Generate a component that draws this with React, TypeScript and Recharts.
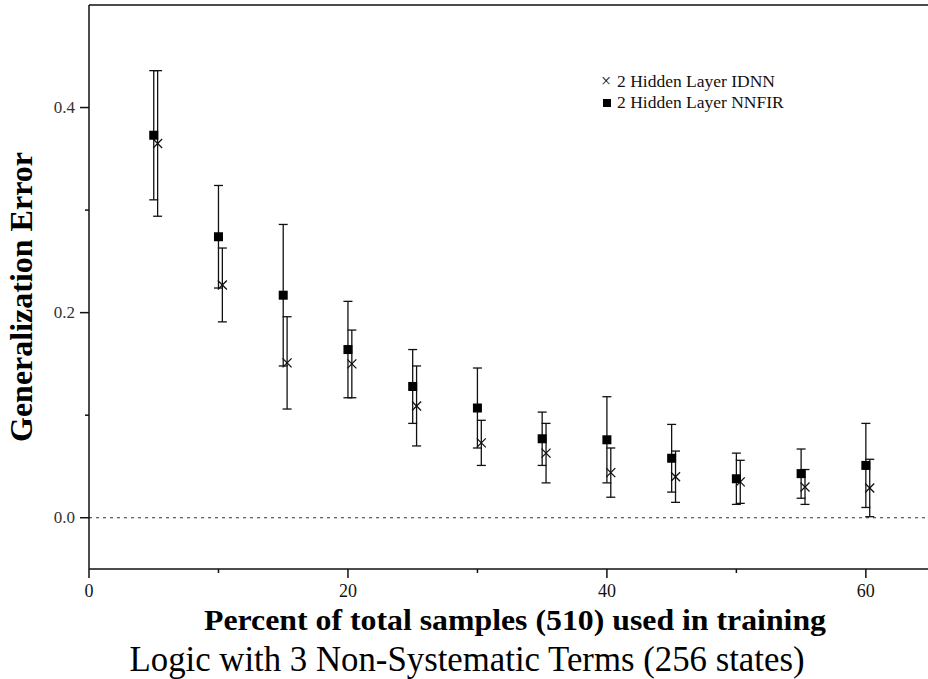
import React from 'react';
import {
  ScatterChart,
  Scatter,
  XAxis,
  YAxis,
  ErrorBar,
  ReferenceLine,
} from 'recharts';

// percent of samples used in training
const percents = [5, 10, 15, 20, 25, 30, 35, 40, 45, 50, 55, 60];
// IDNN points are drawn a little to the right of the NNFIR ones
const idnnOffset = 0.3;

const nnfirMean = [0.373, 0.274, 0.217, 0.164, 0.128, 0.107, 0.077, 0.076, 0.058, 0.038, 0.043, 0.051];
const nnfirErr = [0.063, 0.05, 0.069, 0.047, 0.036, 0.039, 0.026, 0.042, 0.033, 0.025, 0.024, 0.041];
const idnnMean = [0.365, 0.227, 0.151, 0.15, 0.109, 0.073, 0.063, 0.044, 0.04, 0.035, 0.03, 0.029];
const idnnErr = [0.071, 0.036, 0.045, 0.033, 0.039, 0.022, 0.029, 0.024, 0.025, 0.021, 0.017, 0.028];

const xTicks = [0, 10, 20, 30, 40, 50, 60];
const xLabeled = [0, 20, 40, 60];
const yTicks = [0, 0.1, 0.2, 0.3, 0.4];
const yLabeled = [0, 0.2, 0.4];

const FONT = '"Liberation Serif", "Times New Roman", serif';
const INK = '#111';
const serif = { fontFamily: FONT };

const nnfirData = percents.map((p, i) => ({ x: p, y: nnfirMean[i], err: nnfirErr[i] }));
const idnnData = percents.map((p, i) => ({ x: p + idnnOffset, y: idnnMean[i], err: idnnErr[i] }));

const SquareDot = (props: any) => {
  const { cx, cy } = props;
  if (cx == null || cy == null) return null;
  return <rect x={cx - 4.5} y={cy - 4.5} width={9} height={9} fill="#000" />;
};

const CrossDot = (props: any) => {
  const { cx, cy } = props;
  if (cx == null || cy == null) return null;
  const r = 4.5;
  return (
    <g stroke={INK} strokeWidth={1.3}>
      <line x1={cx - r} y1={cy - r} x2={cx + r} y2={cy + r} />
      <line x1={cx - r} y1={cy + r} x2={cx + r} y2={cy - r} />
    </g>
  );
};

const XTick = (props: any) => {
  const { x, y, payload } = props;
  const major = xLabeled.includes(payload.value);
  return (
    <g>
      <line x1={x} y1={y} x2={x} y2={y + (major ? 9 : 4)} stroke={INK} strokeWidth={1.5} />
      {major && (
        <text x={x} y={y + 28} textAnchor="middle" style={serif} fontSize={18} fill={INK}>
          {payload.value}
        </text>
      )}
    </g>
  );
};

const YTick = (props: any) => {
  const { x, y, payload } = props;
  const major = yLabeled.some((v) => Math.abs(v - payload.value) < 1e-9);
  return (
    <g>
      <line x1={x} y1={y} x2={x - (major ? 9 : 4)} y2={y} stroke={INK} strokeWidth={1.5} />
      {major && (
        <text x={x - 14} y={y + 5} textAnchor="end" style={serif} fontSize={17} fill="#333">
          {payload.value.toFixed(1)}
        </text>
      )}
    </g>
  );
};

export default function App() {
  return (
    <div style={{ position: 'absolute', left: 0, top: 0, width: 928, height: 679, background: '#fff' }}>
      <ScatterChart width={928} height={679} margin={{ top: 5, right: 0, left: 29, bottom: 80 }}>
        <XAxis
          type="number"
          dataKey="x"
          domain={[0, 64.8]}
          ticks={xTicks}
          tick={<XTick />}
          tickLine={false}
          tickSize={0}
          tickMargin={0}
          height={30}
          axisLine={{ stroke: INK, strokeWidth: 1.5 }}
          allowDataOverflow
        />
        <YAxis
          type="number"
          dataKey="y"
          domain={[-0.05, 0.5]}
          ticks={yTicks}
          tick={<YTick />}
          tickLine={false}
          tickSize={0}
          tickMargin={0}
          width={60}
          axisLine={{ stroke: INK, strokeWidth: 1.5 }}
          allowDataOverflow
        />
        <ReferenceLine y={0.5} stroke={INK} strokeWidth={1.5} />
        <ReferenceLine y={0} stroke="#333" strokeWidth={1.2} strokeDasharray="3 4" />
        <Scatter data={idnnData} shape={<CrossDot />} isAnimationActive={false}>
          <ErrorBar dataKey="err" direction="y" width={4.5} stroke={INK} strokeWidth={1.3} isAnimationActive={false} />
        </Scatter>
        <Scatter data={nnfirData} shape={<SquareDot />} isAnimationActive={false}>
          <ErrorBar dataKey="err" direction="y" width={4.5} stroke={INK} strokeWidth={1.3} isAnimationActive={false} />
        </Scatter>
      </ScatterChart>

      <svg
        width={928}
        height={679}
        style={{ position: 'absolute', left: 0, top: 0, pointerEvents: 'none' }}
      >
        {/* legend */}
        <text x={601} y={87} style={serif} fontSize={18} fill={INK}>×</text>
        <text x={617} y={87} style={serif} fontSize={17.5} fill={INK}>2 Hidden Layer IDNN</text>
        <rect x={603} y={99} width={8} height={8} fill="#000" />
        <text x={617} y={108} style={serif} fontSize={17.5} fill={INK}>2 Hidden Layer NNFIR</text>

        <text
          transform="translate(32, 297) rotate(-90)"
          textAnchor="middle"
          style={serif}
          fontWeight="bold"
          fontSize={32}
          textLength={290}
          lengthAdjust="spacingAndGlyphs"
          fill="#000"
        >
          Generalization Error
        </text>

        <text
          x={515}
          y={630}
          textAnchor="middle"
          style={serif}
          fontWeight="bold"
          fontSize={30}
          textLength={622}
          lengthAdjust="spacingAndGlyphs"
          fill="#000"
        >
          Percent of total samples (510) used in training
        </text>

        <text
          x={467}
          y={671}
          textAnchor="middle"
          style={serif}
          fontSize={36}
          textLength={675}
          lengthAdjust="spacingAndGlyphs"
          fill="#000"
        >
          Logic with 3 Non-Systematic Terms (256 states)
        </text>
      </svg>
    </div>
  );
}
